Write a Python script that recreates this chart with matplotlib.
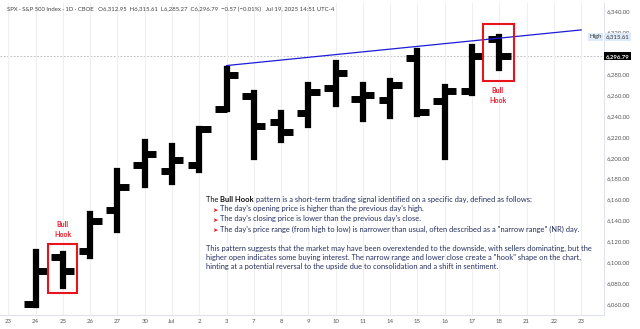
import matplotlib
matplotlib.use("Agg")
import matplotlib.pyplot as plt
from matplotlib.patches import Rectangle

# ---------------- data ----------------
x_labels = ["23", "24", "25", "26", "27", "30", "Jul", "2", "3", "7", "8", "9",
            "10", "11", "14", "15", "16", "17", "18", "21", "22", "23"]
# bars start at index 1 (Jun 24) and end at index 18 (Jul 18)
bar_idx = list(range(1, 19))
opens  = [6060, 6105, 6111, 6150, 6193, 6187, 6193, 6247, 6259, 6234, 6243, 6267,
          6256, 6255, 6295, 6254, 6264, 6312.95]
highs  = [6110, 6108, 6146, 6187, 6215, 6211, 6227, 6284.5, 6261.5, 6242.5, 6269, 6290,
          6269, 6273, 6302, 6268, 6305.5, 6315.61]
lows   = [6059, 6078, 6106, 6131, 6174, 6177, 6188, 6247, 6201, 6217, 6231, 6251,
          6237, 6239.5, 6242, 6201, 6262, 6285.27]
closes = [6092, 6092, 6140, 6172, 6204, 6198, 6227, 6279, 6230, 6225, 6263, 6280.5,
          6260, 6269, 6243.5, 6263.5, 6297, 6296.79]
trend_x = [8, 21]
trend_y = [6288, 6322]
last_close = 6296.79
high_value = 6315.61
y_ticks = list(range(6060, 6341, 20))
hook_boxes = [(1.45, 2.53, 6071, 6118), (17.41, 18.53, 6273, 6328)]
hook_labels = [(2.0, 6136.5, 6127.0), (17.94, 6264.5, 6255.0)]

W, H = 640, 329
fig = plt.figure(figsize=(W / 100, H / 100), dpi=100)
fig.patch.set_facecolor("white")
ax = fig.add_axes([0, (H - 314.5) / H, 603.5 / W, (314.5 - 3) / H])
ax.set_xlim(-0.305, 21.82)
ax.set_ylim(6050.4, 6347.7)

AXF = ["Lato", "DejaVu Sans"]
axcol = "#555555"

# grid
ax.set_xticks(range(len(x_labels)))
ax.set_xticklabels(x_labels, fontsize=4.3, color=axcol, family=AXF)
ax.grid(axis="x", color="#efefef", lw=0.8, zorder=0)
ax.tick_params(axis="x", length=0, pad=3.5)
ax.yaxis.tick_right()
ax.set_yticks(y_ticks)
ax.set_yticklabels([f"{v:,.2f}" for v in y_ticks], fontsize=4.3, color=axcol, family=AXF)
ax.tick_params(axis="y", length=0, pad=2.5)
for s in ["top", "left"]:
    ax.spines[s].set_visible(False)
for s in ["bottom", "right"]:
    ax.spines[s].set_color("#e0e3eb")
    ax.spines[s].set_linewidth(0.8)

# OHLC bars
ax.vlines(bar_idx, lows, highs, colors="black", linewidth=4.5, capstyle="projecting", zorder=3)
tick_len = 0.42
ax.hlines(opens, [i - tick_len for i in bar_idx], bar_idx, colors="black", linewidth=5.0,
          capstyle="butt", zorder=3)
ax.hlines(closes, bar_idx, [i + tick_len for i in bar_idx], colors="black", linewidth=5.0,
          capstyle="butt", zorder=3)

# trend line and last price line
ax.plot(trend_x, trend_y, color="#1c1cd8", lw=0.9, zorder=4)
ax.axhline(last_close, color="#b2b5be", lw=0.6, ls=(0, (2, 2)), zorder=1)

# red boxes + labels
for (x0, x1, y0, y1) in hook_boxes:
    ax.add_patch(Rectangle((x0, y0), x1 - x0, y1 - y0, fill=False, edgecolor="#e8141c",
                           lw=1.5, zorder=5))
red = "#f0182a"
for (lx, y_bull, y_hook) in hook_labels:
    ax.text(lx, y_bull, "Bull", color=red, fontsize=5, fontweight="bold", ha="center",
            va="center", family=AXF)
    ax.text(lx, y_hook, "Hook", color=red, fontsize=5, fontweight="bold", ha="center",
            va="center", family=AXF)

# right-side labels
trans = ax.get_yaxis_transform()
ax.text(1.003, last_close, "6,296.79", transform=trans, fontsize=4.3, color="white",
        fontweight="bold", ha="left", va="center", family=AXF,
        bbox=dict(boxstyle="square,pad=0.25", fc="black", ec="none"), zorder=10, clip_on=False)
ax.text(1.003, high_value, "6,315.61", transform=trans, fontsize=4.3, color="#333333",
        ha="left", va="center", family=AXF,
        bbox=dict(boxstyle="square,pad=0.25", fc="#dfeaf8", ec="none"), zorder=10, clip_on=False)
ax.text(0.997, high_value, "High", transform=trans, fontsize=4.3, color="#333333",
        ha="right", va="center", family=AXF,
        bbox=dict(boxstyle="square,pad=0.25", fc="#dfeaf8", ec="none"), zorder=10, clip_on=False)

# header
fig.text(7 / W, 1 - 9.5 / H,
         "SPX · S&P 500 Index · 1D · CBOE   O6,312.95  H6,315.61  L6,285.27  C6,296.79  "
         "\u22120.57 (\u22120.01%)   Jul 19, 2025 14:51 UTC-4",
         fontsize=4.3, color="#444444", family=AXF, ha="left", va="center")

# rich annotation text
renderer = fig.canvas.get_renderer()
TF = ["Lato", "DejaVu Sans"]
TS = 5.4
navy = "#263060"
dark = "#111111"
arrow_red = "#e8141c"


def twidth(s, **kw):
    t1 = fig.text(0, 0, "|" + s + "|", **kw)
    w1 = t1.get_window_extent(renderer).width
    t1.remove()
    t2 = fig.text(0, 0, "||", **kw)
    w2 = t2.get_window_extent(renderer).width
    t2.remove()
    return w1 - w2


def rich(x_px, y_px, pieces):
    x = x_px
    for s, color, weight, size in pieces:
        kw = dict(fontsize=size, fontweight=weight, family=TF)
        stripped = s.lstrip()
        lead = s[: len(s) - len(stripped)]
        xd = x + (twidth(lead, **kw) if lead else 0)
        fig.text(xd / W, 1 - y_px / H, stripped, color=color, ha="left", va="baseline", **kw)
        x += twidth(s, **kw)


lines = [
    (206, 201.5, [("The ", dark, "normal", TS), ("Bull Hook", dark, "bold", TS),
                  (" pattern is a short-term trading signal identified on a specific day, defined as follows:",
                   navy, "normal", TS)]),
    (213, 211.5, [("\u27a4 ", arrow_red, "normal", 4.6),
                  ("The day's opening price is higher than the previous day's high.", navy, "normal", TS)]),
    (213, 221.5, [("\u27a4 ", arrow_red, "normal", 4.6),
                  ("The day's closing price is lower than the previous day's close.", navy, "normal", TS)]),
    (213, 231.5, [("\u27a4 ", arrow_red, "normal", 4.6),
                  ("The day's price range (from high to low) is narrower than usual, often described as a "
                   "\"narrow range\" (NR) day.", navy, "normal", TS)]),
    (206, 251, [("This pattern suggests that the market may have been overextended to the downside, "
                 "with sellers dominating, but the", navy, "normal", TS)]),
    (206, 260, [("higher open indicates some buying interest. The narrow range and lower close create a "
                 "\"hook\" shape on the chart,", navy, "normal", TS)]),
    (206, 269, [("hinting at a potential reversal to the upside due to consolidation and a shift in sentiment.",
                 navy, "normal", TS)]),
]
for x0, y0, pieces in lines:
    rich(x0, y0, pieces)

fig.savefig("out.png", dpi=100, facecolor="white")
